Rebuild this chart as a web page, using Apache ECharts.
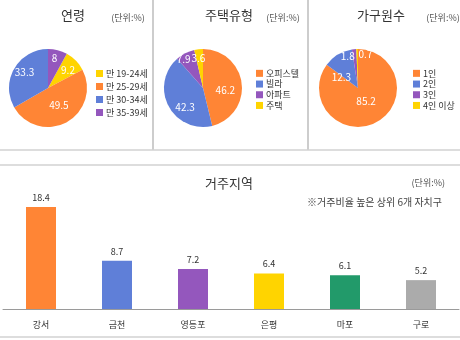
<!DOCTYPE html>
<html><head><meta charset="utf-8">
<script src="https://cdn.jsdelivr.net/npm/echarts@6/dist/echarts.min.js"></script>
<style>html,body{margin:0;padding:0;background:#fff}#c{width:460px;height:340px}</style>
</head><body><div id="c"></div>
<script>
const ageNames = ['만 19-24세','만 25-29세','만 30-34세','만 35-39세'];
const ageValues = [9.2, 49.5, 33.3, 8];
const houseNames = ['오피스텔','빌라','아파트','주택'];
const houseValues = [46.2, 42.3, 7.9, 3.6];
const hhNames = ['1인','2인','3인','4인 이상'];
const hhValues = [85.2, 12.3, 1.8, 0.7];
const regionNames = ['강서','금천','영등포','은평','마포','구로'];
const regionValues = [18.4, 8.7, 7.2, 6.4, 6.1, 5.2];

// label nudges (best-fit style placement as in the source)
const ageNudge = [[4,-2],[0,-2],[-4,-5],[1,-8]];
const houseNudge = [[0,5],[2,9],[-9,-9],[-2,-7]];
const hhNudge = [[-2,-7],[-5,8],[-8,-9],[8,-11]];

const ORANGE = '#FF8535', BLUE = '#5F7FD8', PURPLE = '#9457BD', YELLOW = '#FFD400', GREEN = '#229A6A', GRAY = '#ABABAB';
const FONT = '"Noto Sans CJK KR", sans-serif';
const ageColors = [YELLOW, ORANGE, BLUE, PURPLE];
const houseColors = [ORANGE, BLUE, PURPLE, YELLOW];
const hhColors = [ORANGE, BLUE, PURPLE, YELLOW];
const barColors = [ORANGE, BLUE, PURPLE, YELLOW, GREEN, GRAY];

function pieData(names, values, colors) {
  return names.map((n, i) => ({ name: n, value: values[i], itemStyle: { color: colors[i] } }));
}
function pieSeries(names, values, colors, center, startAngle, nudge) {
  return {
    type: 'pie', center: center, radius: 39, startAngle: startAngle, clockwise: true,
    avoidLabelOverlap: false, minShowLabelAngle: 0,
    data: pieData(names, values, colors),
    label: { show: true, position: 'inside', color: '#fff', fontSize: 10, fontFamily: FONT, formatter: '{c}' },
    labelLine: { show: false },
    labelLayout: function (p) { const o = nudge[p.dataIndex]; return { dx: o[0], dy: o[1], hideOverlap: false }; },
    itemStyle: { borderWidth: 0 },
    emphasis: { disabled: true },
    animation: false
  };
}
function legend(names, left, top, lineH) {
  return {
    data: names, orient: 'vertical', left: left, top: top, icon: 'rect',
    itemWidth: 7, itemHeight: 7, itemGap: 0, selectedMode: false,
    textStyle: { fontSize: 9, color: '#333', fontFamily: FONT, lineHeight: lineH, padding: [0, 0, 0, -2] }
  };
}
const vLine = { stroke: '#BDBDBD', lineWidth: 1.5 };
const hLine = { stroke: '#D2D2D2', lineWidth: 1.5 };
function txt(text, x, y, size, color, align) {
  return { type: 'text', x: x, y: y, style: { text: text, fill: color, font: size + 'px ' + FONT, align: align || 'center', verticalAlign: 'middle' } };
}

const chart = echarts.init(document.getElementById('c'), null, { renderer: 'canvas' });
chart.setOption({
  backgroundColor: '#fff',
  animation: false,
  legend: [
    legend(ageNames, 91, 62, 13),
    legend(houseNames, 251, 63, 10.7),
    legend(hhNames, 408, 63, 10.7)
  ],
  grid: { left: 3, right: 1, top: 198, bottom: 31 },
  xAxis: {
    type: 'category', data: regionNames,
    axisLine: { lineStyle: { color: '#9A9A9A', width: 1 } },
    axisTick: { show: false },
    axisLabel: { fontSize: 9, color: '#333', fontFamily: FONT, margin: 11 }
  },
  yAxis: { type: 'value', min: 0, max: 20, show: false, splitLine: { show: false } },
  series: [
    pieSeries(ageNames, ageValues, ageColors, [48, 88], 90 - 8 / 100 * 360, ageNudge),
    pieSeries(houseNames, houseValues, houseColors, [203, 88], 90, houseNudge),
    pieSeries(hhNames, hhValues, hhColors, [358, 88], 90, hhNudge),
    {
      type: 'bar', barWidth: 30,
      data: regionValues.map((v, i) => ({ value: v, itemStyle: { color: barColors[i] } })),
      label: { show: true, position: 'top', fontSize: 9, color: '#333', fontFamily: FONT, distance: 5 },
      emphasis: { disabled: true }
    }
  ],
  graphic: [
    { type: 'line', shape: { x1: 153, y1: 0, x2: 153, y2: 150 }, style: vLine },
    { type: 'line', shape: { x1: 308, y1: 0, x2: 308, y2: 150 }, style: vLine },
    { type: 'line', shape: { x1: 0, y1: 150, x2: 460, y2: 150 }, style: hLine },
    { type: 'line', shape: { x1: 0, y1: 165, x2: 460, y2: 165 }, style: hLine },
    { type: 'line', shape: { x1: 0, y1: 337, x2: 460, y2: 337 }, style: hLine },
    txt('연령', 73, 15, 13, '#333'),
    txt('주택유형', 229, 15, 13, '#333'),
    txt('가구원수', 381, 15, 13, '#333'),
    txt('(단위:%)', 128, 18, 9, '#555'),
    txt('(단위:%)', 283, 18, 9, '#555'),
    txt('(단위:%)', 443, 18, 9, '#555'),
    txt('거주지역', 229, 183, 13, '#333'),
    txt('(단위:%)', 445, 183, 9, '#555', 'right'),
    txt('※거주비율 높은 상위 6개 자치구', 442, 202, 10, '#444', 'right')
  ]
});
</script></body></html>
